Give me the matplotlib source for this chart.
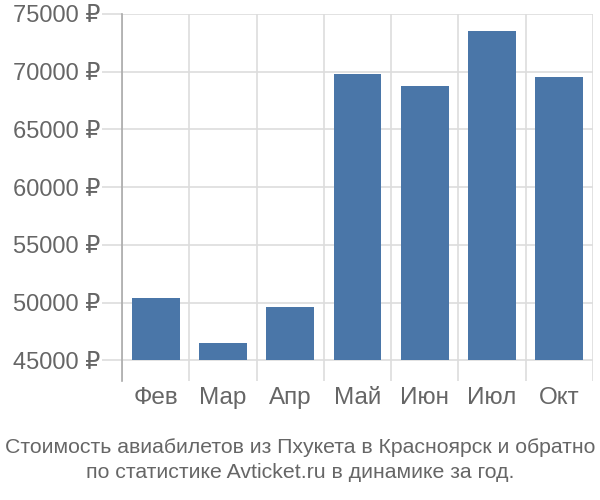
import matplotlib
matplotlib.use("Agg")
import matplotlib.pyplot as plt
from matplotlib import font_manager

months = ["Фев", "Мар", "Апр", "Май", "Июн", "Июл", "Окт"]
prices = [50400, 46450, 49650, 69800, 68750, 73550, 69500]
yticks = [45000, 50000, 55000, 60000, 65000, 70000, 75000]
ytick_labels = [f"{v} ₽" for v in yticks]
title = "Стоимость авиабилетов из Пхукета в Красноярск и обратно\nпо статистике Avticket.ru в динамике за год."

names = {f.name for f in font_manager.fontManager.ttflist}
fam = "Liberation Sans" if "Liberation Sans" in names else "DejaVu Sans"
plt.rcParams["font.family"] = [fam, "DejaVu Sans"]

fig = plt.figure(figsize=(6, 5), dpi=100)
ax = fig.add_axes([122/600, 1-381/500, (593-122)/600, (381-14)/500])

x = list(range(len(months)))
ax.bar(x, [p - 45000 for p in prices], bottom=45000, width=0.71, color="#4a76a8", zorder=3)

ax.set_xlim(-0.5, len(months) - 0.5)
ax.set_ylim(43200, 75000)
ax.set_yticks(yticks)
ax.set_yticklabels(ytick_labels, fontsize=17, color="#666666")
ax.set_xticks(x)
ax.set_xticklabels(months, fontsize=17.5, color="#666666")
ax.set_xticks([i - 0.5 for i in range(len(months) + 1)], minor=True)

ax.tick_params(axis="y", length=14.4, width=1.2, color="#dddddd", pad=1)
ax.tick_params(axis="x", which="major", length=0, pad=4)
ax.tick_params(axis="x", which="minor", length=0)
ax.grid(axis="y", which="major", color="#dddddd", linewidth=1.2, zorder=0)
ax.grid(axis="x", which="minor", color="#dddddd", linewidth=1.2, zorder=0)
ax.grid(axis="x", which="major", visible=False)

for s in ["top", "right", "bottom"]:
    ax.spines[s].set_visible(False)
ax.spines["left"].set_color("#aaaaaa")
ax.spines["left"].set_linewidth(1.2)

fig.text(0.5, 1 - 460/500, title, ha="center", va="center", fontsize=15.3,
         color="#666666", linespacing=1.4)

fig.savefig("out.png", dpi=100)
